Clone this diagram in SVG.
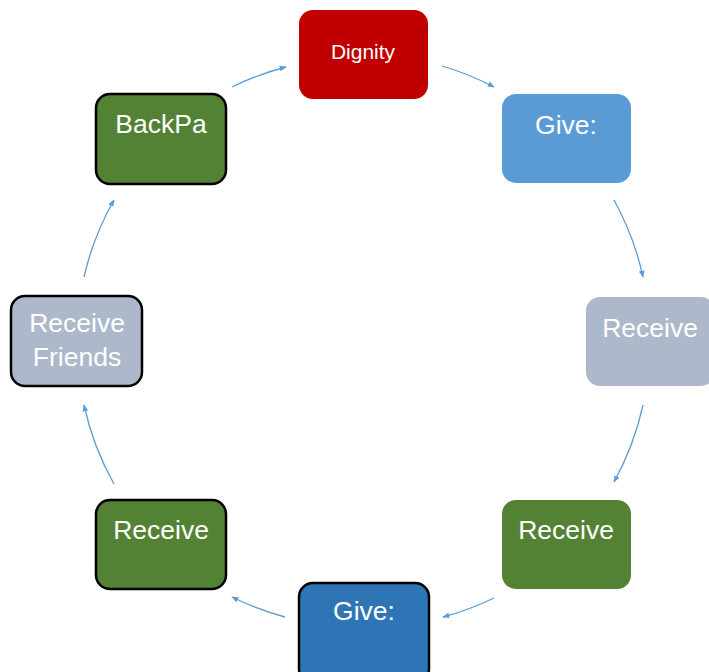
<svg xmlns="http://www.w3.org/2000/svg" width="709" height="672" viewBox="0 0 709 672">
<style>
.t{font-family:"Liberation Sans","Open Sans",sans-serif;fill:#fff;text-anchor:middle;font-size:26.5px}
.c{fill:none;stroke:#5B9BD5;stroke-width:1.3;marker-end:url(#ah)}
.b{stroke:#000;stroke-width:2.5}
</style>
<defs>
<marker id="ah" viewBox="0 0 10 10" refX="9" refY="5" markerWidth="7" markerHeight="7" markerUnits="userSpaceOnUse" orient="auto">
<path d="M0,1 L10,5 L0,9 z" fill="#5B9BD5"/>
</marker>
</defs>
<rect width="709" height="672" fill="#fff"/>
<g id="connectors">
<path class="c" d="M232,87 A285,285 0 0 1 286,67"/>
<path class="c" d="M442,66 A285,285 0 0 1 494,87"/>
<path class="c" d="M614,200 A285,285 0 0 1 643,277"/>
<path class="c" d="M643,405 A285,285 0 0 1 614,482"/>
<path class="c" d="M494,598 A285,285 0 0 1 443,617"/>
<path class="c" d="M285,617 A285,285 0 0 1 232,597"/>
<path class="c" d="M114,484 A285,285 0 0 1 84,405"/>
<path class="c" d="M84,277 A285,285 0 0 1 114,200"/>
</g>
<g id="dignity">
<rect x="299" y="10" width="129" height="89" rx="14" fill="#C00000"/>
<text class="t" x="363" y="59" style="font-size:21px">Dignity</text>
</g>
<g id="give1">
<rect x="502" y="94" width="129" height="89" rx="14" fill="#5B9BD5"/>
<text class="t" x="566" y="134">Give:</text>
</g>
<g id="receive1">
<rect x="586" y="297" width="129" height="89" rx="14" fill="#ADB9CA"/>
<text class="t" x="650" y="337">Receive</text>
</g>
<g id="receive2">
<rect x="502" y="500" width="129" height="89" rx="14" fill="#548235"/>
<text class="t" x="566" y="539">Receive</text>
</g>
<g id="give2">
<rect x="299" y="583" width="130" height="100" rx="14" fill="#2E75B6" class="b"/>
<text class="t" x="364" y="620">Give:</text>
</g>
<g id="receive3">
<rect x="96" y="500" width="130" height="89" rx="14" fill="#548235" class="b"/>
<text class="t" x="161" y="539">Receive</text>
</g>
<g id="receiveFriends">
<rect x="11" y="296" width="131" height="90" rx="14" fill="#ADB9CA" class="b"/>
<text class="t" x="77" y="332">Receive</text>
<text class="t" x="77" y="366">Friends</text>
</g>
<g id="backpa">
<rect x="96" y="94" width="130" height="90" rx="14" fill="#548235" class="b"/>
<text class="t" x="161" y="133">BackPa</text>
</g>
</svg>
